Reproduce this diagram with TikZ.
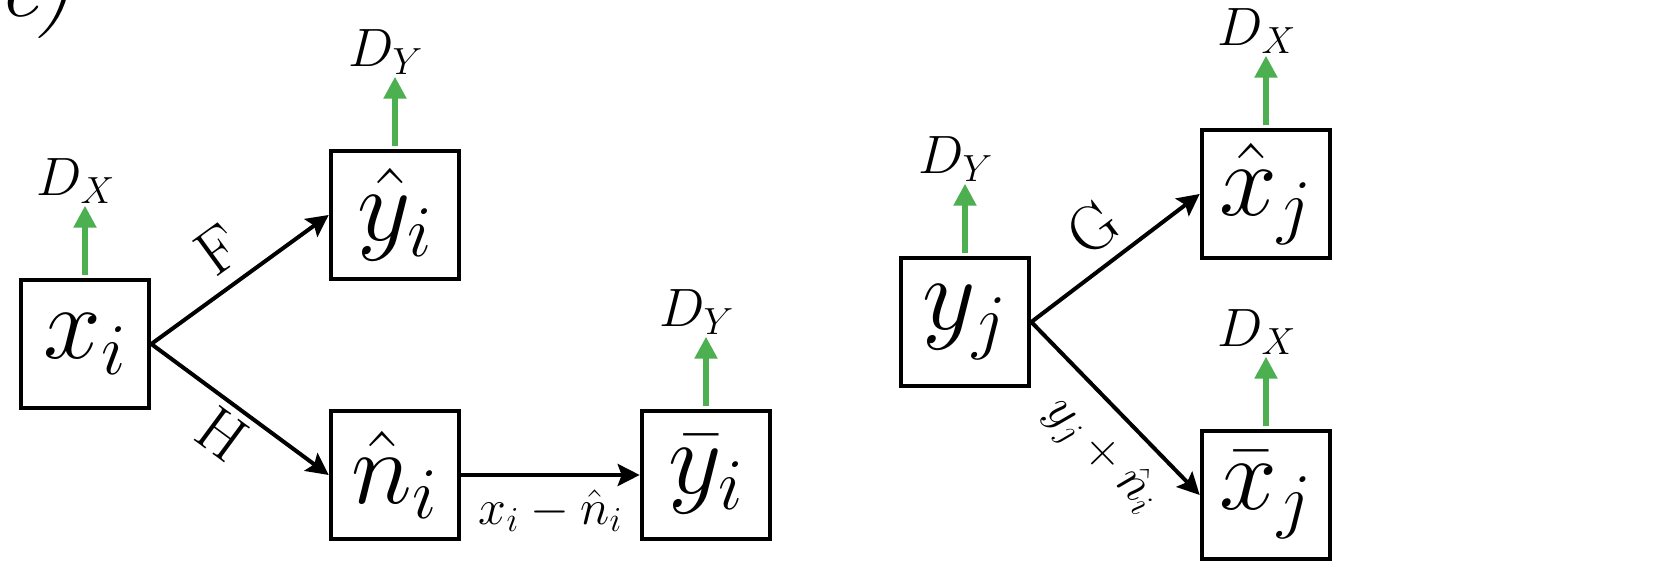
\RequirePackage{fix-cm}
\documentclass[tikz,border=0pt]{standalone}
\usepackage{tikz}
\usetikzlibrary{arrows.meta, positioning}
\definecolor{discgreen}{RGB}{76,175,80}

\begin{document}
\begin{tikzpicture}[x=1pt, y=1pt,
    box/.style={draw, line width=2.3pt, minimum size=64pt, inner sep=0pt, font=\fontsize{52}{56}\selectfont},
    flow/.style={line width=2pt, -{Stealth[length=11pt, width=11pt, inset=2pt]}},
    disc/.style={discgreen, line width=2.6pt, -{Triangle[length=11pt, width=11pt]}},
    dname/.style={font=\fontsize{27}{29}\selectfont, inner sep=1pt},
    fname/.style={font=\fontsize{32}{34}\selectfont},
    ename/.style={font=\fontsize{25}{27}\selectfont}]
    \useasboundingbox (0,0) rectangle (839,292);
    % panel tag, cut off at the top
    \node[anchor=base west, inner sep=0pt, font=\fontsize{44}{48}\selectfont\itshape] (tag) at (-1,283.5) {c)};

    % X -> Y branch
    \node[box] (xi) at (42.5,120) {$x_i$};
    \node[box] (yhat) at (197.5,184.5) {$\hat{y}_i$};
    \node[box] (nhat) at (197.5,54.5) {$\hat{n}_i$};
    \node[box] (ybar) at (353,54.5) {$\bar{y}_i$};

    % Y -> X branch
    \node[box] (yj) at (482.5,131) {$y_j$};
    \node[box] (xhat) at (633,195) {$\hat{x}_j$};
    \node[box] (xbar) at (633,44.5) {$\bar{x}_j$};

    % generators
    \draw[flow] (xi.east) -- node[fname, sloped, above=3pt] {F} (yhat.west);
    \draw[flow] (xi.east) -- node[fname, sloped, below=0pt] {H} (nhat.west);
    \draw[flow] (nhat.east) -- node[ename, below=3pt] {$x_i - \hat{n}_i$} (ybar.west);
    \draw[flow] (yj.east) -- node[fname, sloped, above=3pt] {G} (xhat.west);
    \draw[flow] (yj.east) -- node[ename, sloped, below=5pt, pos=0.6] {$y_j + \hat{n}_i$} (xbar.west);

    % discriminators
    \coordinate[above=36pt of xi.north] (tipxi);
    \coordinate[above=36pt of yhat.north] (tipyhat);
    \coordinate[above=36pt of ybar.north] (tipybar);
    \coordinate[above=36pt of yj.north] (tipyj);
    \coordinate[above=36pt of xhat.north] (tipxhat);
    \coordinate[above=36pt of xbar.north] (tipxbar);
    \draw[disc] ([yshift=1.15pt]xi.north) -- (tipxi);
    \draw[disc] ([yshift=1.15pt]yhat.north) -- (tipyhat);
    \draw[disc] ([yshift=1.15pt]ybar.north) -- (tipybar);
    \draw[disc] ([yshift=1.15pt]yj.north) -- (tipyj);
    \draw[disc] ([yshift=1.15pt]xhat.north) -- (tipxhat);
    \draw[disc] ([yshift=1.15pt]xbar.north) -- (tipxbar);
    \node[dname, above=0pt of tipxi, xshift=-4.5pt] (dxi) {$D_X$};
    \node[dname, above=0pt of tipyhat, xshift=-4.5pt] (dyhat) {$D_Y$};
    \node[dname, above=0pt of tipybar, xshift=-4.5pt] (dybar) {$D_Y$};
    \node[dname, above=0pt of tipyj, xshift=-4.5pt] (dyj) {$D_Y$};
    \node[dname, above=0pt of tipxhat, xshift=-4.5pt] (dxhat) {$D_X$};
    \node[dname, above=0pt of tipxbar, xshift=-4.5pt] (dxbar) {$D_X$};
\end{tikzpicture}
\end{document}
